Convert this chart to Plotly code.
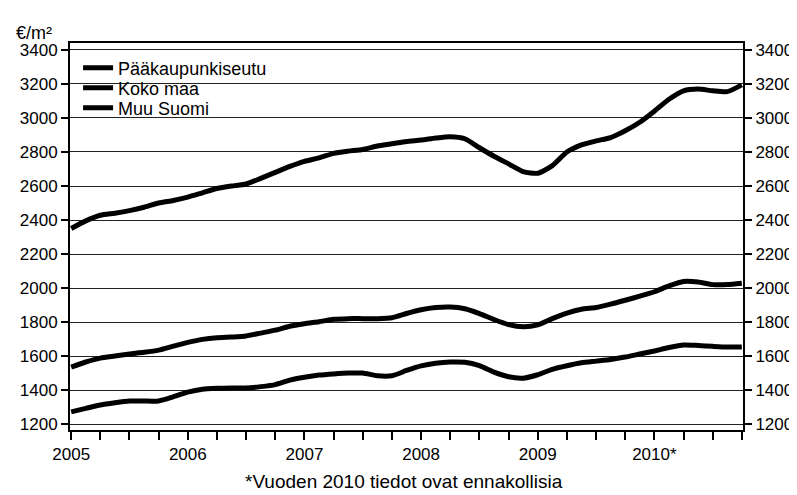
import plotly.graph_objects as go

# Time axis (decimal years, every 1/8 year)
years = [2005 + i * 0.125 for i in range(47)]

paakaupunkiseutu = [
    2350, 2395, 2428, 2440, 2455, 2475, 2500, 2515,
    2535, 2560, 2585, 2600, 2612, 2645, 2680, 2715,
    2745, 2765, 2792, 2805, 2815, 2835, 2848, 2862,
    2870, 2882, 2890, 2878, 2825, 2775, 2730, 2685,
    2675, 2720, 2800, 2842, 2865, 2885, 2925, 2975,
    3040, 3110, 3160, 3170, 3160, 3155, 3195,
]
koko_maa = [
    1535, 1565, 1588, 1600, 1612, 1622, 1635, 1658,
    1680, 1698, 1708, 1712, 1718, 1735, 1752, 1775,
    1790, 1802, 1816, 1820, 1820, 1820, 1825, 1850,
    1872, 1885, 1888, 1878, 1850, 1815, 1785, 1772,
    1783, 1820, 1852, 1875, 1885, 1905, 1928, 1952,
    1978, 2012, 2038, 2035, 2020, 2020, 2028,
]
muu_suomi = [
    1272, 1292, 1312, 1325, 1335, 1335, 1336, 1360,
    1388, 1405, 1410, 1412, 1412, 1420, 1432, 1458,
    1475, 1488, 1495, 1500, 1500, 1484, 1484, 1515,
    1542, 1558, 1565, 1563, 1543, 1505, 1478, 1470,
    1490, 1522, 1543, 1560, 1570, 1580, 1594, 1612,
    1630, 1650, 1665, 1662, 1657, 1653, 1653,
]

series_names = ["Pääkaupunkiseutu", "Koko maa", "Muu Suomi"]
x_tick_vals = [2005 + q * 0.25 for q in range(24)]
year_labels = {2005: "2005", 2006: "2006", 2007: "2007", 2008: "2008", 2009: "2009", 2010: "2010*"}
y_ticks = list(range(1200, 3401, 200))

FONT = "Arial, Liberation Sans, sans-serif"

PLOT_TOP, PLOT_BOTTOM = 35, 422
PLOT_H = PLOT_BOTTOM - PLOT_TOP


def py(pix):
    return (PLOT_BOTTOM - pix) / PLOT_H


legend_ids = ["legend", "legend2", "legend3"]
legend_rows = [60, 80, 100]

fig = go.Figure()
for name, vals, lg in zip(series_names, [paakaupunkiseutu, koko_maa, muu_suomi], legend_ids):
    fig.add_trace(go.Scatter(
        x=years, y=vals, name=name, mode="lines", legend=lg,
        line=dict(color="black", width=5, shape="spline", smoothing=0.6),
    ))

# invisible trace to carry the right-hand axis
fig.add_trace(go.Scatter(
    x=years, y=muu_suomi, yaxis="y2", mode="lines", opacity=0,
    line=dict(width=0), showlegend=False, hoverinfo="skip",
))

ticktext = [year_labels.get(int(v), "") if abs(v - round(v)) < 1e-9 else "" for v in x_tick_vals]

legend_style = dict(
    x=0.012, xanchor="left", yanchor="middle",
    bgcolor="rgba(0,0,0,0)", borderwidth=0,
    font=dict(size=18, family=FONT, color="black"),
    itemwidth=30,
)

fig.update_layout(
    width=797, height=495,
    margin=dict(l=62, r=54, t=PLOT_TOP, b=495 - PLOT_BOTTOM),
    paper_bgcolor="white", plot_bgcolor="white",
    font=dict(family=FONT, size=17, color="black"),
    showlegend=True,
    legend=dict(y=py(legend_rows[0]), **legend_style),
    legend2=dict(y=py(legend_rows[1]), **legend_style),
    legend3=dict(y=py(legend_rows[2]), **legend_style),
    xaxis=dict(
        range=[2004.99, 2010.76],
        tickmode="array", tickvals=x_tick_vals, ticktext=ticktext,
        ticks="outside", ticklen=8, tickwidth=2, tickcolor="black",
        showline=True, linecolor="black", linewidth=2, mirror=True,
        showgrid=False, zeroline=False,
        tickfont=dict(size=17, family=FONT, color="black"),
    ),
    yaxis=dict(
        range=[1165, 3441],
        tickmode="array", tickvals=y_ticks,
        ticks="outside", ticklen=7, tickwidth=2, tickcolor="black",
        showline=True, linecolor="black", linewidth=2,
        showgrid=True, gridcolor="#222222", gridwidth=1,
        zeroline=False,
        tickfont=dict(size=17, family=FONT, color="black"),
    ),
    yaxis2=dict(
        range=[1165, 3441], overlaying="y", side="right",
        tickmode="array", tickvals=y_ticks,
        ticks="outside", ticklen=7, tickwidth=2, tickcolor="black",
        showline=True, linecolor="black", linewidth=2,
        showgrid=False, zeroline=False,
        tickfont=dict(size=17, family=FONT, color="black"),
    ),
    annotations=[
        dict(text="€/m²", xref="paper", yref="paper", x=-0.083, y=py(25),
             xanchor="left", yanchor="middle", showarrow=False,
             font=dict(size=18, family=FONT, color="black")),
        dict(text="*Vuoden 2010 tiedot ovat ennakollisia", xref="paper", yref="paper",
             x=(400 - 62) / 681, y=py(473),
             xanchor="center", yanchor="middle", showarrow=False,
             font=dict(size=19, family=FONT, color="black")),
    ],
)

fig.write_html("out.html")
